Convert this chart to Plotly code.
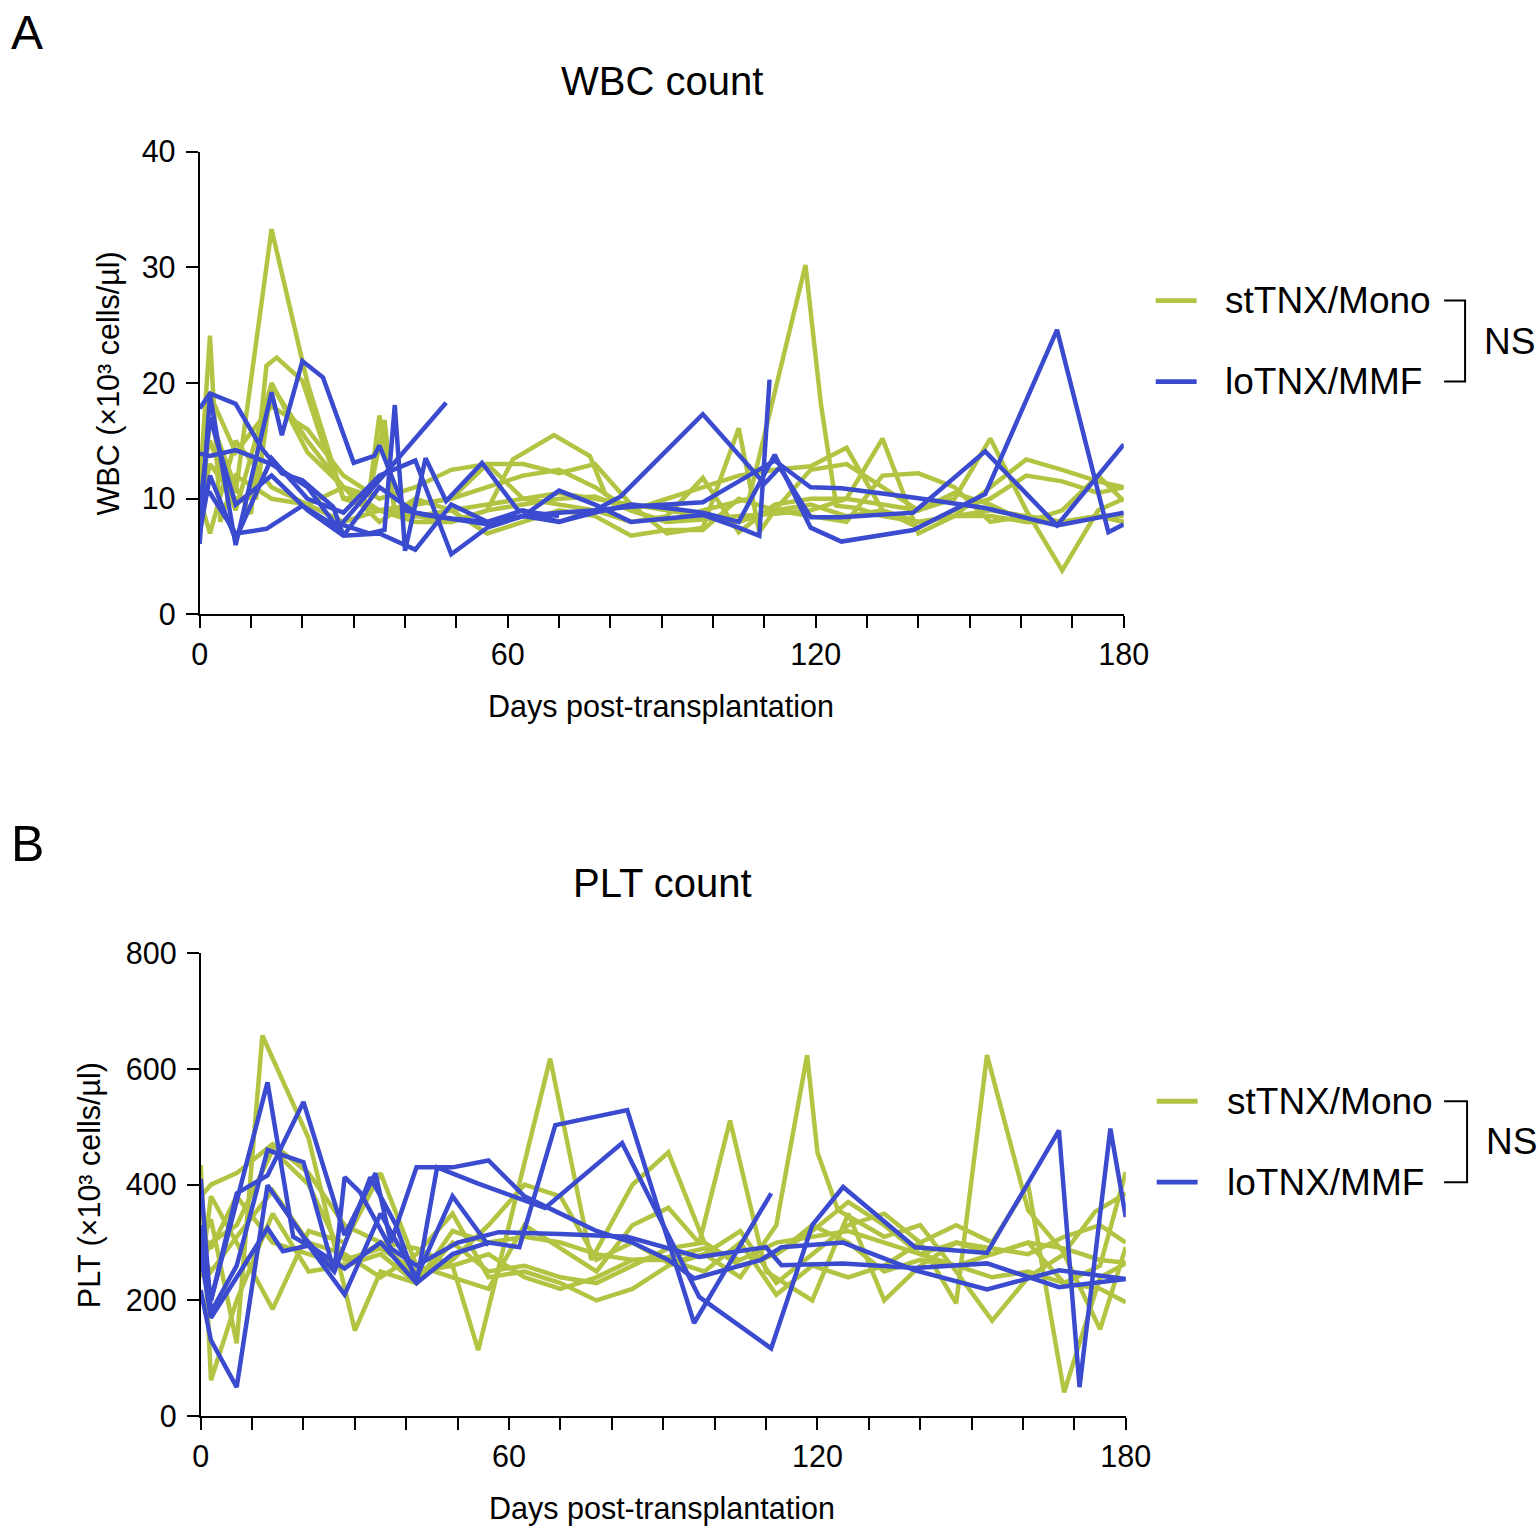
import plotly.graph_objects as go

# ---------------- DATA ----------------
# Panel A: WBC count (x10^3 cells/ul), stTNX/Mono patients
wbc_st1_day = [0, 2, 4, 7, 14, 21, 28, 35, 42, 49, 56, 63, 70, 77, 84, 91, 98, 105, 112, 119, 126, 133, 140, 147, 154, 161, 168, 175, 180]
wbc_st1_val = [11.0, 24.1, 8.0, 12.0, 10.0, 9.5, 8.0, 9.0, 8.5, 9.0, 9.5, 10.0, 10.5, 10.0, 9.5, 9.0, 8.5, 8.0, 9.0, 9.5, 8.5, 9.0, 8.0, 8.5, 9.0, 8.5, 8.0, 8.5, 8.0]
wbc_st2_day = [0, 2, 7, 14, 21, 28, 35, 42, 49, 56, 63, 70, 77, 84, 91, 98, 107, 118, 121, 124, 128, 133, 140, 147, 154, 161, 168, 175, 180]
wbc_st2_val = [12.0, 17.0, 10.5, 33.3, 20.0, 10.0, 9.0, 9.5, 10.0, 11.0, 12.0, 12.5, 11.0, 9.0, 8.0, 9.0, 10.0, 30.2, 18.2, 9.4, 9.2, 8.5, 8.0, 8.5, 8.5, 8.0, 8.0, 8.5, 8.5]
wbc_st3_day = [0, 2, 7, 10, 13, 15, 20, 24, 28, 33, 35, 38, 42, 49, 56, 61, 69, 76, 79, 84, 91, 98, 105, 112, 119, 126, 133, 140, 147, 154, 161, 168, 175, 180]
wbc_st3_val = [7.0, 17.0, 11.0, 8.7, 21.5, 22.2, 20.2, 14.8, 10.0, 10.4, 17.2, 9.0, 8.5, 8.0, 9.0, 13.4, 15.5, 13.7, 10.4, 9.0, 10.0, 11.0, 12.0, 12.5, 12.8, 14.4, 9.0, 7.5, 9.0, 10.0, 12.0, 11.5, 10.5, 11.0]
wbc_st4_day = [0, 2, 7, 11, 14, 21, 28, 33, 36, 38, 42, 49, 56, 63, 70, 77, 84, 91, 98, 105, 109, 112, 119, 126, 133, 140, 147, 154, 161, 168, 175, 180]
wbc_st4_val = [9.0, 13.0, 10.0, 10.1, 19.8, 15.0, 11.0, 10.3, 16.8, 8.7, 9.5, 10.0, 13.0, 13.0, 12.2, 13.0, 9.5, 7.0, 7.5, 16.1, 7.1, 9.0, 12.5, 13.0, 11.0, 9.0, 10.0, 15.2, 9.0, 3.8, 9.0, 10.0]
wbc_st5_day = [0, 2, 7, 14, 21, 28, 35, 42, 49, 56, 63, 70, 77, 84, 91, 98, 105, 112, 119, 126, 133, 140, 147, 154, 161, 168, 175, 180]
wbc_st5_val = [10.0, 7.0, 15.0, 11.0, 9.5, 11.0, 8.0, 10.0, 9.0, 7.0, 8.0, 9.0, 8.5, 6.8, 7.3, 7.3, 10.0, 9.0, 8.5, 8.0, 12.0, 12.2, 11.0, 8.0, 8.5, 8.0, 8.5, 8.0]
wbc_st6_day = [0, 2, 7, 14, 21, 28, 35, 42, 49, 56, 63, 70, 77, 84, 91, 98, 105, 112, 119, 126, 133, 140, 147, 154, 161, 168, 175, 180]
wbc_st6_val = [8.0, 19.0, 14.0, 18.0, 16.0, 12.0, 10.0, 11.0, 12.5, 13.0, 10.0, 9.5, 9.0, 8.0, 8.5, 11.8, 7.1, 9.5, 10.0, 10.0, 15.2, 7.0, 8.5, 11.0, 13.4, 12.5, 11.5, 11.0]
wbc_st7_day = [0, 2, 7, 14, 21, 28, 35, 42, 49, 56, 63, 70, 77, 84, 91, 98, 105, 112, 119, 126, 133, 140, 147, 154, 161, 168, 175, 180]
wbc_st7_val = [12.0, 15.0, 9.0, 20.0, 14.0, 11.0, 9.0, 8.0, 8.0, 9.0, 9.5, 10.0, 10.2, 9.0, 8.0, 8.2, 8.5, 8.7, 9.0, 10.0, 9.5, 9.0, 10.5, 9.5, 8.0, 9.0, 12.0, 9.8]

# Panel A: WBC count, loTNX/MMF patients
wbc_mm1_day = [0, 2, 7, 12, 16, 20, 26, 28, 35, 42, 49, 56, 63, 70, 77, 84, 91, 98, 105, 112, 119, 125, 139, 153, 167, 180]
wbc_mm1_val = [17.8, 19.1, 18.2, 14.4, 12.2, 11.6, 9.3, 6.8, 11.0, 8.8, 8.3, 8.0, 8.5, 8.8, 9.0, 9.3, 9.5, 9.7, 11.5, 13.3, 11.0, 10.9, 10.1, 9.2, 7.7, 8.8]
wbc_mm2_day = [0, 2, 7, 14, 16, 20, 24, 30, 34, 35, 36, 40, 44, 49, 56, 63, 70, 77, 84, 91, 98, 105, 109, 111]
wbc_mm2_val = [6.1, 19.0, 6.0, 19.2, 15.5, 21.9, 20.5, 13.1, 13.7, 14.6, 13.5, 9.0, 8.6, 8.3, 7.8, 8.5, 10.7, 9.5, 8.0, 8.3, 8.6, 7.5, 6.8, 20.3]
wbc_mm3_day = [0, 2, 7, 13, 20, 27, 48]
wbc_mm3_val = [10.4, 10.5, 7.0, 7.4, 9.4, 7.5, 18.3]
wbc_mm4_day = [0, 2, 7, 14, 21, 26, 33, 36, 38, 40, 44, 48, 55, 62, 70]
wbc_mm4_val = [13.9, 13.7, 14.2, 13.0, 11.0, 8.0, 7.0, 7.3, 18.1, 5.5, 13.5, 9.8, 13.1, 9.0, 8.5]
wbc_mm5_day = [0, 2, 7, 14, 21, 28, 35, 42, 49, 56, 63, 70, 77, 82, 98, 110, 113, 119, 125, 139, 153, 167, 180]
wbc_mm5_val = [9.0, 17.0, 9.5, 12.0, 9.0, 6.8, 7.0, 5.6, 9.5, 8.0, 9.0, 8.0, 9.0, 10.2, 17.3, 11.3, 12.7, 8.4, 8.4, 8.8, 14.1, 7.7, 14.7]
wbc_mm6_day = [0, 2, 7, 14, 21, 28, 35, 42, 49, 56, 63, 70, 77, 84, 91, 98, 105, 112, 119, 125, 139, 153, 167, 177, 180]
wbc_mm6_val = [7.0, 12.0, 6.5, 13.5, 10.0, 8.8, 12.0, 13.3, 5.2, 7.5, 8.5, 8.0, 8.8, 9.5, 9.2, 8.8, 8.0, 13.8, 7.5, 6.3, 7.3, 10.4, 24.6, 7.1, 7.8]

# Panel B: PLT count (x10^3 cells/ul), stTNX/Mono patients
plt_st1_day = [0, 2, 7, 12, 21, 30, 35, 42, 49, 56, 63, 70, 77, 84, 91, 98, 105, 112, 119, 126, 133, 140, 147, 154, 161, 168, 175, 180]
plt_st1_val = [300, 340, 126, 658, 480, 148, 250, 230, 300, 250, 260, 240, 230, 260, 290, 300, 260, 280, 330, 300, 250, 270, 260, 280, 300, 290, 270, 265]
plt_st2_day = [0, 2, 7, 14, 21, 28, 35, 42, 49, 56, 63, 70, 77, 84, 91, 98, 105, 112, 119, 126, 133, 140, 147, 154, 161, 168, 175, 180]
plt_st2_val = [434, 62, 200, 350, 250, 260, 280, 230, 320, 300, 310, 300, 280, 270, 275, 290, 270, 300, 310, 320, 300, 280, 300, 290, 280, 310, 330, 300]
plt_st3_day = [0, 2, 7, 14, 21, 28, 35, 42, 49, 54, 68, 76, 84, 91, 98, 105, 112, 119, 126, 133, 140, 147, 154, 161, 168, 175, 180]
plt_st3_val = [380, 400, 420, 470, 420, 330, 300, 290, 260, 114, 618, 270, 400, 456, 300, 260, 280, 320, 370, 330, 280, 260, 240, 250, 230, 260, 422]
plt_st4_day = [0, 2, 7, 14, 21, 28, 35, 42, 49, 56, 63, 70, 77, 84, 91, 97, 103, 110, 119, 126, 133, 140, 147, 154, 161, 168, 175, 180]
plt_st4_val = [240, 380, 300, 185, 320, 300, 420, 260, 240, 220, 330, 290, 250, 330, 360, 299, 511, 250, 200, 350, 200, 260, 300, 280, 300, 230, 220, 197]
plt_st5_day = [0, 2, 7, 14, 21, 28, 35, 42, 49, 56, 63, 70, 77, 84, 91, 98, 105, 112, 118, 120, 124, 133, 140, 147, 154, 161, 168, 175, 180]
plt_st5_val = [280, 250, 310, 390, 300, 280, 240, 280, 350, 240, 250, 230, 200, 220, 260, 280, 240, 330, 624, 456, 356, 310, 330, 250, 165, 240, 280, 150, 292]
plt_st6_day = [0, 2, 7, 14, 21, 28, 35, 42, 49, 56, 63, 70, 77, 84, 91, 98, 105, 112, 119, 126, 133, 140, 147, 153, 161, 168, 174, 180]
plt_st6_val = [320, 290, 380, 300, 280, 260, 300, 240, 270, 330, 400, 380, 270, 300, 265, 280, 320, 230, 280, 330, 350, 300, 195, 624, 356, 282, 353, 385]
plt_st7_day = [0, 2, 7, 14, 21, 28, 35, 42, 49, 56, 63, 70, 77, 84, 91, 98, 105, 112, 119, 126, 133, 140, 147, 154, 161, 168, 175, 180]
plt_st7_val = [260, 300, 330, 460, 400, 270, 290, 250, 260, 280, 240, 220, 240, 270, 270, 250, 300, 210, 260, 240, 260, 300, 330, 300, 400, 41, 240, 264]

# Panel B: PLT count, loTNX/MMF patients
plt_mm1_day = [0, 2, 13, 18, 22, 28, 35, 42, 49, 56, 62, 69, 83, 96, 111]
plt_mm1_val = [304, 200, 577, 310, 290, 255, 300, 230, 280, 300, 292, 503, 529, 161, 385]
plt_mm2_day = [0, 2, 7, 13, 20, 26, 33, 38, 42, 46, 54, 67, 82, 97, 111, 119, 125, 139, 153, 167, 171, 177, 180]
plt_mm2_val = [218, 131, 50, 399, 310, 250, 413, 330, 230, 430, 402, 360, 472, 206, 117, 330, 396, 292, 282, 494, 50, 497, 344]
plt_mm3_day = [0, 2, 7, 13, 20, 28, 34, 37, 42, 49, 56, 63, 70, 77, 84, 91, 96, 109, 113, 125, 139, 153, 167, 180]
plt_mm3_val = [330, 200, 385, 416, 543, 313, 420, 300, 430, 430, 442, 380, 350, 320, 300, 270, 238, 270, 292, 300, 252, 219, 252, 237]
plt_mm4_day = [0, 2, 7, 13, 20, 26, 28, 31, 37, 42, 50, 58, 70, 83, 97, 110, 113, 125, 139, 153, 167, 180]
plt_mm4_val = [410, 180, 260, 460, 439, 249, 413, 387, 290, 260, 300, 318, 315, 310, 275, 292, 261, 264, 256, 264, 223, 237]
plt_mm5_day = [0, 2, 7, 13, 16, 21, 28, 35, 42, 49, 56]
plt_mm5_val = [280, 170, 240, 325, 285, 295, 210, 350, 240, 380, 295]

x_major_ticks = [0, 60, 120, 180]
wbc_ticks = [0, 10, 20, 30, 40]
plt_ticks = [0, 200, 400, 600, 800]
group_names = ["stTNX/Mono", "loTNX/MMF"]

# ---------------- STYLE ----------------
# The capture was measured to show page pixel p at about 0.98*p + offset,
# so target positions (given in picture pixels) are converted to page pixels.
W, H = 1540, 1545
SX, OX = 0.9806, 6.9
SY, OY = 0.9784, 16.3
GREEN = "#B3C342"
BLUE = "#3B4BCF"
FONT = "Arial, Liberation Sans, Helvetica, sans-serif"
LW = 4.5


def px(x):
    return ((x - OX) / SX) / W


def py(y):
    return 1 - ((y - OY) / SY) / H


fig = go.Figure()

wbc_st = [(wbc_st1_day, wbc_st1_val), (wbc_st2_day, wbc_st2_val), (wbc_st3_day, wbc_st3_val),
          (wbc_st4_day, wbc_st4_val), (wbc_st5_day, wbc_st5_val), (wbc_st6_day, wbc_st6_val),
          (wbc_st7_day, wbc_st7_val)]
wbc_mm = [(wbc_mm1_day, wbc_mm1_val), (wbc_mm2_day, wbc_mm2_val), (wbc_mm3_day, wbc_mm3_val),
          (wbc_mm4_day, wbc_mm4_val), (wbc_mm5_day, wbc_mm5_val), (wbc_mm6_day, wbc_mm6_val)]
plt_st = [(plt_st1_day, plt_st1_val), (plt_st2_day, plt_st2_val), (plt_st3_day, plt_st3_val),
          (plt_st4_day, plt_st4_val), (plt_st5_day, plt_st5_val), (plt_st6_day, plt_st6_val),
          (plt_st7_day, plt_st7_val)]
plt_mm = [(plt_mm1_day, plt_mm1_val), (plt_mm2_day, plt_mm2_val), (plt_mm3_day, plt_mm3_val),
          (plt_mm4_day, plt_mm4_val), (plt_mm5_day, plt_mm5_val)]

for series, color, name, xa, ya in [
    (wbc_st, GREEN, group_names[0], "x", "y"),
    (wbc_mm, BLUE, group_names[1], "x", "y"),
    (plt_st, GREEN, group_names[0], "x2", "y2"),
    (plt_mm, BLUE, group_names[1], "x2", "y2"),
]:
    for d, v in series:
        fig.add_trace(go.Scatter(x=d, y=v, mode="lines", name=name, showlegend=False,
                                 line=dict(color=color, width=LW), xaxis=xa, yaxis=ya))

axis_common = dict(showline=True, linecolor="black", linewidth=2, ticks="outside",
                   ticklen=12, tickwidth=2, tickcolor="black", showgrid=False, zeroline=False,
                   tickfont=dict(family=FONT, size=30.5, color="black"), fixedrange=True)
x_minor = dict(ticks="outside", ticklen=12, tickwidth=2, tickcolor="black", dtick=10, tick0=0,
               showgrid=False)

fig.update_layout(
    width=W, height=H, margin=dict(l=0, r=0, t=0, b=0),
    plot_bgcolor="white", paper_bgcolor="white",
    font=dict(family=FONT, color="black"),
    showlegend=False,
    xaxis=dict(domain=[px(199), px(1125)], range=[0, 180], anchor="y",
               tickvals=x_major_ticks, minor=x_minor, **axis_common),
    yaxis=dict(domain=[py(614), py(151)], range=[0, 40], anchor="x",
               tickvals=wbc_ticks, ticklabelstandoff=4, **axis_common),
    xaxis2=dict(domain=[px(200), px(1127)], range=[0, 180], anchor="y2",
                tickvals=x_major_ticks, minor=x_minor, **axis_common),
    yaxis2=dict(domain=[py(1416), py(953)], range=[0, 800], anchor="x2",
                tickvals=plt_ticks, ticklabelstandoff=4, **axis_common),
)

ann = []


def text(x, y, s, size, xanchor="center", yanchor="middle", angle=0):
    ann.append(dict(x=px(x), y=py(y), xref="paper", yref="paper", text=s, showarrow=False,
                    xanchor=xanchor, yanchor=yanchor, textangle=angle,
                    font=dict(family=FONT, size=size, color="black")))


# Panel letters and titles
text(8, 32, "A", 48, xanchor="left")
text(8, 844, "B", 50, xanchor="left")
text(662, 80, "WBC count", 40)
text(663, 883, "PLT count", 40)
# axis titles
text(108, 383, "WBC (×10³ cells/µl)", 30.5, angle=-90)
text(88, 1185, "PLT (×10³ cells/µl)", 30.5, angle=-90)
text(661, 706, "Days post-transplantation", 30.5)
text(662, 1508, "Days post-transplantation", 30.5)

shapes = []


def legend_block(x_line0, x_text, y_g, y_b, x_br0, x_br1, x_ns):
    shapes.append(dict(type="line", xref="paper", yref="paper", x0=px(x_line0), x1=px(x_line0 + 41),
                       y0=py(y_g), y1=py(y_g), line=dict(color=GREEN, width=4.8)))
    shapes.append(dict(type="line", xref="paper", yref="paper", x0=px(x_line0), x1=px(x_line0 + 41),
                       y0=py(y_b), y1=py(y_b), line=dict(color=BLUE, width=4.8)))
    text(x_text, y_g, group_names[0], 37, xanchor="left")
    text(x_text, y_b, group_names[1], 37, xanchor="left")
    path = "M {} {} L {} {} L {} {} L {} {}".format(px(x_br0), py(y_g), px(x_br1), py(y_g),
                                                   px(x_br1), py(y_b), px(x_br0), py(y_b))
    shapes.append(dict(type="path", xref="paper", yref="paper", path=path,
                       line=dict(color="black", width=2)))
    text(x_ns, (y_g + y_b) / 2, "NS", 37, xanchor="left")


legend_block(1157, 1224, 300, 381, 1446, 1467, 1484)
legend_block(1158, 1226, 1101, 1182, 1446, 1469, 1486)

fig.update_layout(annotations=ann, shapes=shapes)

fig.write_html("out.html", config={"displayModeBar": False},
               post_script="document.body.style.margin='0';document.body.style.overflow='hidden';"
                           "document.documentElement.style.overflow='hidden';")
